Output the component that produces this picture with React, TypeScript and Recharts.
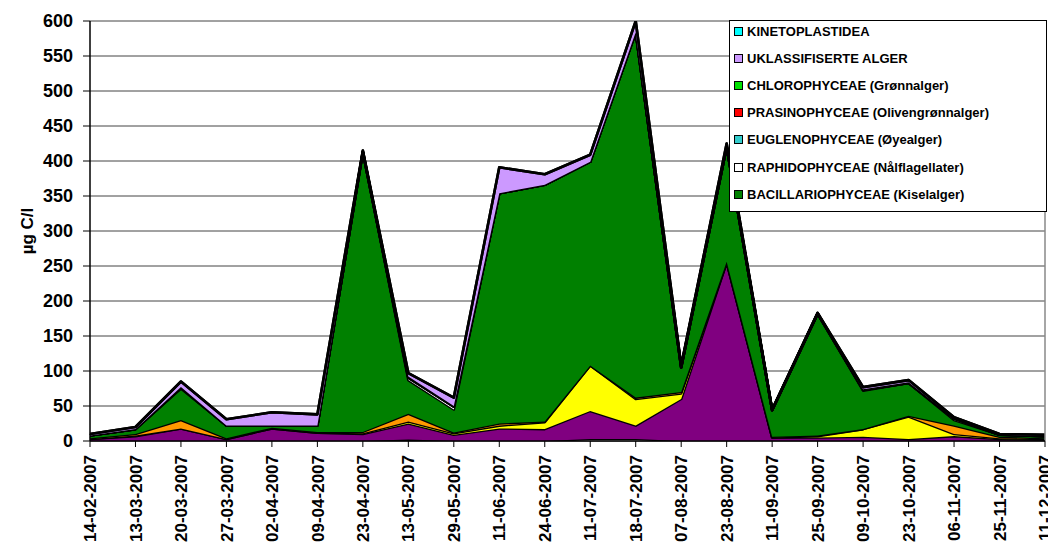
import React from "react";
import { AreaChart, Area, XAxis, YAxis, CartesianGrid, Legend, ReferenceLine } from "recharts";

const categories = [
  "14-02-2007", "13-03-2007", "20-03-2007", "27-03-2007", "02-04-2007", "09-04-2007",
  "23-04-2007", "13-05-2007", "29-05-2007", "11-06-2007", "24-06-2007", "11-07-2007",
  "18-07-2007", "07-08-2007", "23-08-2007", "11-09-2007", "25-09-2007", "09-10-2007",
  "23-10-2007", "06-11-2007", "25-11-2007", "11-12-2007",
];

const cyanophyceae = [0, 0, 0, 0, 0, 0, 0, 2, 0, 0, 0, 3, 3, 0, 0, 0, 0, 0, 0, 0, 0, 0];
const dinophyceae = [3, 7, 18, 3, 18, 12, 10, 23, 9, 18, 17, 40, 19, 60, 255, 5, 5, 6, 3, 7, 3, 2];
const cryptophyceae = [0, 1, 0, 0, 0, 0, 1, 3, 2, 4, 10, 65, 38, 8, 0, 0, 2, 11, 32, 3, 1, 1];
const chrysophyceae = [1, 2, 12, 1, 1, 1, 2, 11, 1, 3, 1, 0, 2, 2, 1, 1, 1, 0, 1, 12, 2, 1];
const bacillariophyceae = [4, 7, 45, 18, 3, 9, 400, 48, 33, 329, 338, 291, 522, 35, 164, 38, 174, 55, 47, 8, 3, 3];
const raphidophyceae = [0, 0, 1, 0, 0, 0, 0, 3, 4, 0, 0, 0, 0, 0, 0, 0, 0, 1, 0, 2, 0, 0];
const euglenophyceae = [0, 0, 0, 0, 0, 0, 0, 1, 0, 0, 0, 0, 0, 0, 0, 0, 0, 0, 0, 0, 0, 0];
const prasinophyceae = [0, 0, 0, 0, 0, 0, 0, 0, 0, 0, 0, 0, 0, 0, 0, 0, 0, 0, 0, 0, 0, 0];
const chlorophyceae = [0, 0, 1, 0, 0, 0, 0, 1, 1, 0, 0, 0, 0, 1, 0, 0, 0, 1, 1, 1, 0, 0];
const uklassifiserte = [2, 3, 8, 9, 19, 16, 2, 5, 12, 37, 15, 10, 16, 2, 5, 1, 1, 3, 3, 1, 1, 2];
const kinetoplastidea = [0, 0, 0, 0, 0, 0, 0, 0, 0, 0, 0, 0, 0, 0, 0, 0, 0, 0, 0, 0, 0, 0];

const yTicks = [0, 50, 100, 150, 200, 250, 300, 350, 400, 450, 500, 550, 600];

type SeriesDef = { key: string; name: string; values: number[]; color: string; legend: boolean };

const series: SeriesDef[] = [
  { key: "cyano", name: "CYANOPHYCEAE (Blågrønnalger)", values: cyanophyceae, color: "#D8D8D8", legend: false },
  { key: "dino", name: "DINOPHYCEAE (Fureflagellater)", values: dinophyceae, color: "#800080", legend: false },
  { key: "crypto", name: "CRYPTOPHYCEAE (Svelgflagellater)", values: cryptophyceae, color: "#FFFF00", legend: false },
  { key: "chryso", name: "CHRYSOPHYCEAE (Gullalger)", values: chrysophyceae, color: "#FF9900", legend: false },
  { key: "bacil", name: "BACILLARIOPHYCEAE (Kiselalger)", values: bacillariophyceae, color: "#008000", legend: true },
  { key: "raphi", name: "RAPHIDOPHYCEAE (Nålflagellater)", values: raphidophyceae, color: "#FFFFFF", legend: true },
  { key: "eugle", name: "EUGLENOPHYCEAE (Øyealger)", values: euglenophyceae, color: "#33CCCC", legend: true },
  { key: "prasi", name: "PRASINOPHYCEAE (Olivengrønnalger)", values: prasinophyceae, color: "#FF0000", legend: true },
  { key: "chloro", name: "CHLOROPHYCEAE (Grønnalger)", values: chlorophyceae, color: "#00E000", legend: true },
  { key: "ukl", name: "UKLASSIFISERTE ALGER", values: uklassifiserte, color: "#CC99FF", legend: true },
  { key: "kine", name: "KINETOPLASTIDEA", values: kinetoplastidea, color: "#00FFFF", legend: true },
];

const data = categories.map((c, i) => {
  const row: Record<string, number | string> = { date: c };
  series.forEach((s) => {
    row[s.key] = s.values[i];
  });
  return row;
});

const FONT = "Arial, 'Liberation Sans', sans-serif";

const XTick = (props: any) => {
  const { x, y, payload } = props;
  return (
    <g transform={`translate(${x},${y})`}>
      <text
        transform="rotate(-90)"
        x={-6}
        y={0}
        dy="0.36em"
        textAnchor="end"
        fontFamily={FONT}
        fontWeight="bold"
        fontSize={17}
        fill="#000"
      >
        {payload.value}
      </text>
    </g>
  );
};

const LegendBox = (props: any) => {
  const names = new Set((props.payload || []).map((p: any) => p.value));
  const items = series.filter((s) => s.legend && names.has(s.name)).reverse();
  return (
    <div
      style={{
        width: 316,
        height: 190,
        border: "1px solid #000",
        background: "#fff",
        position: "relative",
        boxSizing: "content-box",
      }}
    >
      {items.map((s, i) => (
        <div
          key={s.key}
          style={{
            position: "absolute",
            left: 4,
            top: 4 + i * 27.1,
            height: 13,
            display: "flex",
            alignItems: "center",
            whiteSpace: "nowrap",
          }}
        >
          <span
            style={{
              display: "inline-block",
              width: 7,
              height: 7,
              border: "1px solid #000",
              background: s.color,
              marginRight: 4,
            }}
          />
          <span style={{ fontFamily: FONT, fontWeight: "bold", fontSize: 13, color: "#000" }}>
            {s.name}
          </span>
        </div>
      ))}
    </div>
  );
};

export default function App() {
  return (
    <div style={{ position: "absolute", left: 0, top: 0, width: 1048, height: 544, background: "#fff" }}>
      <AreaChart
        width={1048}
        height={544}
        data={data}
        margin={{ top: 21, right: 3, left: 0, bottom: 0 }}
      >
        <CartesianGrid horizontal vertical={false} stroke="#444" strokeWidth={1} />
        <XAxis
          dataKey="date"
          interval={0}
          height={103}
          tick={<XTick />}
          tickSize={6}
          tickMargin={2}
          axisLine={{ stroke: "#000", strokeWidth: 1.5 }}
          tickLine={{ stroke: "#000" }}
        />
        <YAxis
          width={90}
          domain={[0, 600]}
          ticks={yTicks}
          interval={0}
          allowDataOverflow
          tickSize={7}
          tickMargin={10}
          axisLine={{ stroke: "#000", strokeWidth: 1.5 }}
          tickLine={{ stroke: "#000" }}
          tick={{ fontFamily: FONT, fontWeight: "bold", fontSize: 18, fill: "#000" }}
          label={{
            value: "µg C/l",
            angle: -90,
            position: "insideLeft",
            offset: 27,
            style: { fontFamily: FONT, fontWeight: "bold", fontSize: 17, fill: "#000", textAnchor: "middle" },
          }}
        />
        <ReferenceLine x={categories[categories.length - 1]} stroke="#888" strokeWidth={1.5} />
        {series.map((s) => (
          <Area
            key={s.key}
            type="linear"
            dataKey={s.key}
            name={s.name}
            stackId="1"
            fill={s.color}
            fillOpacity={1}
            stroke="#000"
            strokeWidth={2.6}
            strokeLinejoin="round"
            dot={false}
            activeDot={false}
            legendType={s.legend ? "square" : "none"}
            isAnimationActive={false}
          />
        ))}
        <Legend
          layout="vertical"
          align="center"
          verticalAlign="middle"
          content={<LegendBox />}
          wrapperStyle={{ left: 729, top: 20, width: 318, height: 192, right: "auto", bottom: "auto" }}
        />
      </AreaChart>
    </div>
  );
}
